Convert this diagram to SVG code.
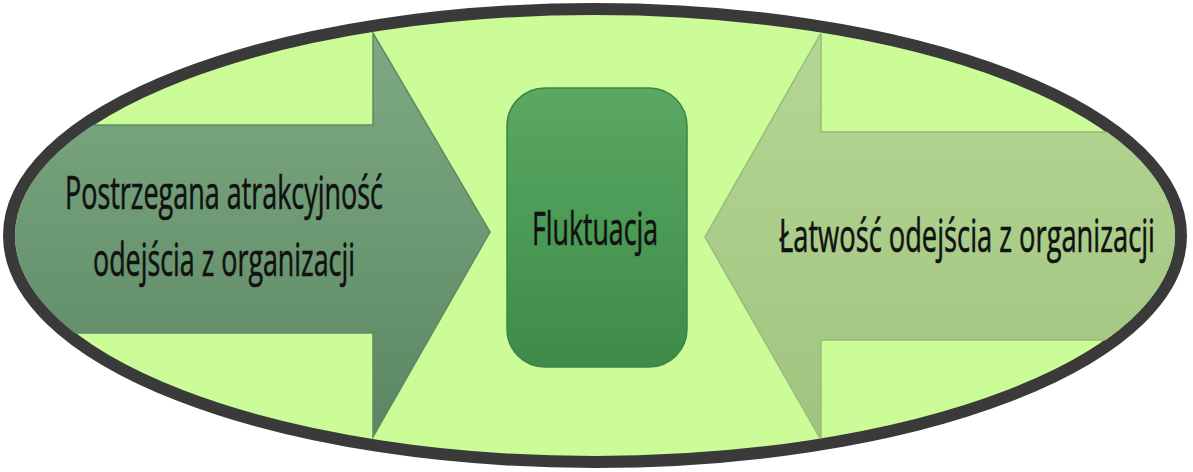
<svg xmlns="http://www.w3.org/2000/svg" width="1193" height="472" viewBox="0 0 1193 472">
  <style>
    .lbl { font-family: "Open Sans", "Liberation Sans", sans-serif; font-size: 45px; fill: #111; stroke: #111; stroke-width: 0.6px; }
  </style>
  <defs>
    <clipPath id="inner">
      <ellipse cx="595" cy="235.5" rx="580" ry="220.5"/>
    </clipPath>
    <linearGradient id="gLeft" x1="0" y1="0" x2="0" y2="1">
      <stop offset="0" stop-color="#7eaa83"/>
      <stop offset="0.5" stop-color="#6c9873"/>
      <stop offset="1" stop-color="#5b8663"/>
    </linearGradient>
    <linearGradient id="gRight" x1="0" y1="0" x2="0" y2="1">
      <stop offset="0" stop-color="#b4d795"/>
      <stop offset="0.5" stop-color="#aacd89"/>
      <stop offset="1" stop-color="#a0c47f"/>
    </linearGradient>
    <linearGradient id="gCenter" x1="0" y1="0" x2="0" y2="1">
      <stop offset="0" stop-color="#5aa862"/>
      <stop offset="0.5" stop-color="#4b9a55"/>
      <stop offset="1" stop-color="#3f8a49"/>
    </linearGradient>
  </defs>

  <g id="background">
    <ellipse cx="595" cy="235.5" rx="586" ry="226.5" fill="#cbfc98" stroke="#3a3a3a" stroke-width="12"/>
  </g>

  <g id="connectors"/>

  <g id="node-left">
    <polygon clip-path="url(#inner)" points="0,125 373,125 373,33 490,232 373,437 373,333 0,333" fill="url(#gLeft)" stroke="#5f8a66" stroke-width="1.5"/>
    <text class="lbl" x="224" y="209" text-anchor="middle" textLength="318" lengthAdjust="spacingAndGlyphs">Postrzegana atrakcyjność</text>
    <text class="lbl" x="224" y="276" text-anchor="middle" textLength="262" lengthAdjust="spacingAndGlyphs">odejścia z organizacji</text>
  </g>

  <g id="node-center">
    <rect x="507" y="88" width="180" height="279" rx="38" ry="38" fill="url(#gCenter)" stroke="#3d8446" stroke-width="1.5"/>
    <text class="lbl" x="595" y="245" text-anchor="middle" textLength="126" lengthAdjust="spacingAndGlyphs">Fluktuacja</text>
  </g>

  <g id="node-right">
    <polygon clip-path="url(#inner)" points="1193,132 821,132 821,33 705,237 821,440 821,340 1193,340" fill="url(#gRight)" stroke="#98bb7a" stroke-width="1.5"/>
    <text class="lbl" x="967" y="252" text-anchor="middle" textLength="376" lengthAdjust="spacingAndGlyphs">Łatwość odejścia z organizacji</text>
  </g>
</svg>
